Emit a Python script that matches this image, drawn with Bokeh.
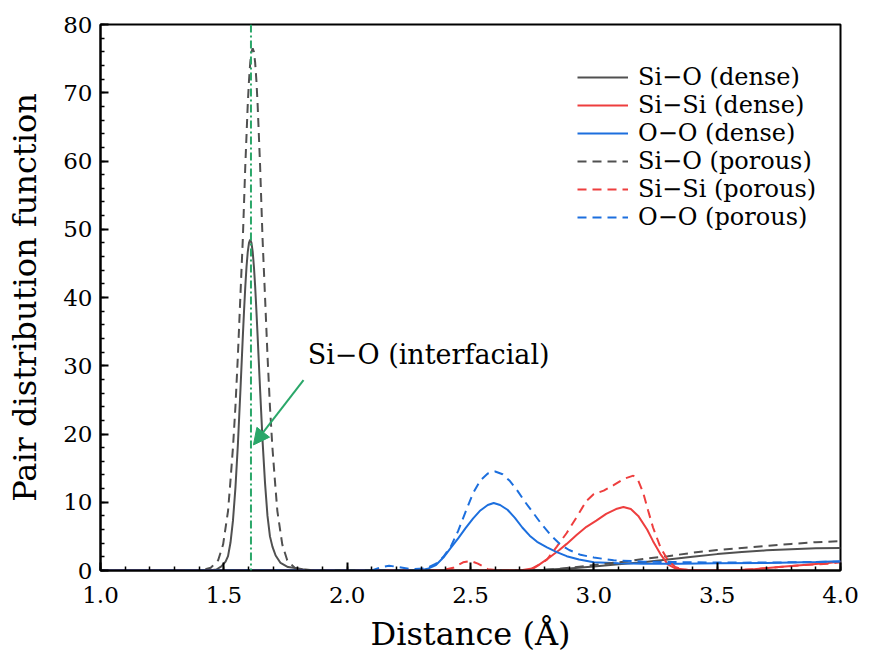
from bokeh.plotting import figure
from bokeh.models import (Range1d, FixedTicker, NumeralTickFormatter, Span, Arrow,
                          NormalHead, Label, Legend, LegendItem)
from bokeh.embed import file_html
from bokeh.resources import INLINE

# ---------------- data ----------------
sio_dense_x = [1.0, 1.44, 1.47, 1.49, 1.507, 1.517, 1.527, 1.537, 1.547, 1.557, 1.567, 1.577,
               1.582, 1.587, 1.592, 1.597, 1.602, 1.607, 1.612, 1.617, 1.622, 1.627, 1.632,
               1.637, 1.647, 1.657, 1.667, 1.677, 1.687, 1.697, 1.71, 1.73, 1.76, 1.79, 1.82,
               1.86, 1.90, 2.70, 2.80, 2.90, 3.0, 3.1, 3.2, 3.3, 3.4, 3.5, 3.6, 3.7, 3.8, 3.9, 4.0]
sio_dense_y = [0, 0, 0.15, 0.6, 1.3, 2.1, 4.1, 7.3, 12.1, 18.5, 26.2, 34.3,
               38.1, 41.6, 44.5, 46.7, 48.0, 48.5, 48.0, 46.7, 44.5, 41.6, 38.1,
               34.3, 26.5, 19.0, 12.8, 8.0, 5.0, 3.5, 2.2, 1.1, 0.5, 0.35, 0.2,
               0.05, 0, 0, 0.1, 0.3, 0.6, 0.9, 1.2, 1.6, 2.0, 2.4, 2.7, 2.95, 3.1, 3.25, 3.3]

sisi_dense_x = [1.0, 2.70, 2.75, 2.78, 2.82, 2.86, 2.89, 2.93, 2.97, 3.01, 3.05, 3.09, 3.12,
                3.15, 3.18, 3.216, 3.24, 3.27, 3.30, 3.33, 3.38, 3.45, 3.55, 3.65, 3.75,
                3.85, 3.95, 4.0]
sisi_dense_y = [0, 0, 0.3, 0.9, 1.9, 3.0, 3.9, 5.2, 6.4, 7.3, 8.3, 9.0, 9.3,
                9.0, 8.0, 6.0, 4.3, 2.4, 0.9, 0.3, 0.1, 0.0, 0.0, 0.2, 0.5,
                0.8, 1.1, 1.3]

oo_dense_x = [1.0, 2.30, 2.33, 2.36, 2.39, 2.42, 2.45, 2.48, 2.51, 2.54, 2.57, 2.594, 2.62,
              2.65, 2.68, 2.71, 2.74, 2.77, 2.81, 2.85, 2.89, 2.94, 3.0, 3.1, 3.2, 3.35,
              3.5, 3.7, 3.9, 4.0]
oo_dense_y = [0, 0.05, 0.3, 0.8, 1.9, 3.3, 4.7, 6.2, 7.6, 8.8, 9.6, 9.9, 9.6,
              8.9, 7.7, 6.3, 5.1, 4.2, 3.4, 2.7, 2.1, 1.6, 1.2, 1.05, 1.0, 1.0,
              1.05, 1.1, 1.25, 1.35]

sio_porous_x = [1.0, 1.39, 1.417, 1.447, 1.477, 1.497, 1.517, 1.527, 1.537, 1.547, 1.557, 1.567,
                1.577, 1.587, 1.597, 1.602, 1.607, 1.612, 1.617, 1.622, 1.627, 1.632, 1.637,
                1.647, 1.657, 1.667, 1.677, 1.687, 1.697, 1.707, 1.717, 1.737, 1.757, 1.787,
                1.817, 1.86, 2.75, 2.85, 2.95, 3.05, 3.15, 3.2, 3.3, 3.4, 3.5, 3.6, 3.7,
                3.8, 3.9, 4.0]
sio_porous_y = [0, 0, 0.1, 0.4, 1.5, 3.8, 8.7, 13.2, 18.0, 24.0, 31.5, 40.1,
                48.6, 59.3, 68.3, 71.8, 74.4, 76.0, 76.5, 76.0, 74.4, 71.8, 68.3,
                59.3, 48.6, 40.1, 31.5, 24.0, 18.0, 13.2, 8.7, 3.8, 1.5, 0.4,
                0.1, 0, 0, 0.2, 0.6, 1.0, 1.4, 1.7, 2.1, 2.6, 3.0, 3.3, 3.6,
                3.9, 4.15, 4.3]

sisi_porous_x = [1.0, 2.38, 2.43, 2.47, 2.50, 2.53, 2.57, 2.62, 2.72, 2.76, 2.81, 2.85, 2.89,
                 2.93, 2.97, 3.00, 3.04, 3.08, 3.12, 3.16, 3.18, 3.20, 3.22, 3.24, 3.27,
                 3.30, 3.33, 3.37, 3.45, 3.55, 3.65, 3.75, 3.85, 3.95, 4.0]
sisi_porous_y = [0, 0, 0.4, 1.2, 1.4, 1.0, 0.2, 0, 0, 0.4, 1.6, 3.5, 5.5,
                 7.8, 10.2, 11.2, 11.7, 12.5, 13.4, 13.9, 13.2, 11.4, 8.8, 6.3, 3.4,
                 1.5, 0.5, 0.1, 0, 0, 0.2, 0.5, 0.8, 1.0, 1.2]

oo_porous_x = [1.0, 2.10, 2.13, 2.17, 2.21, 2.26, 2.32, 2.36, 2.39, 2.42, 2.45, 2.48, 2.51,
               2.54, 2.57, 2.60, 2.63, 2.66, 2.69, 2.72, 2.755, 2.79, 2.83, 2.865, 2.90,
               2.946, 3.0, 3.08, 3.2, 3.4, 3.6, 3.8, 4.0]
oo_porous_y = [0, 0, 0.4, 0.7, 0.5, 0.2, 0.3, 1.0, 2.0, 3.5, 5.8, 8.6, 11.3,
               13.2, 14.2, 14.5, 14.1, 13.1, 11.7, 10.1, 8.4, 6.7, 5.0, 3.8, 3.0,
               2.3, 1.9, 1.5, 1.3, 1.2, 1.15, 1.2, 1.3]

series_labels = ["Si−O (dense)", "Si−Si (dense)", "O−O (dense)",
                 "Si−O (porous)", "Si−Si (porous)", "O−O (porous)"]

interfacial_x = 1.61
arrow_start = (1.823, 27.9)
arrow_end = (1.620, 18.4)
annot_pos = (1.84, 31.6)
annot_text = "Si−O (interfacial)"

x_ticks = [1.0, 1.5, 2.0, 2.5, 3.0, 3.5, 4.0]
y_ticks = [0, 10, 20, 30, 40, 50, 60, 70, 80]

# ---------------- style ----------------
FONT = "DejaVu Serif"
GRAY = "#505050"
RED = "#ee3e3e"
BLUE = "#1c6fde"
GREEN = "#2aa769"

p = figure(width=863, height=655, output_backend="svg", toolbar_location=None,
           x_range=Range1d(1.0, 4.0), y_range=Range1d(0, 80),
           min_border_left=100, min_border_right=23, min_border_top=24, min_border_bottom=84)
p.background_fill_color = "white"
p.border_fill_color = "white"
p.grid.visible = False
p.outline_line_color = "black"
p.outline_line_width = 2
p.outline_line_alpha = 1

x_minor = [round(1.0 + 0.1 * i, 2) for i in range(31)]
y_minor = list(range(0, 81, 2))
p.xaxis.ticker = FixedTicker(ticks=x_ticks, minor_ticks=x_minor)
p.yaxis.ticker = FixedTicker(ticks=y_ticks, minor_ticks=y_minor)
p.xaxis.formatter = NumeralTickFormatter(format="0.0")

for ax in (p.xaxis[0], p.yaxis[0]):
    ax.axis_line_width = 2
    ax.axis_line_color = "black"
    ax.major_tick_in = 8
    ax.major_tick_out = 0
    ax.minor_tick_in = 4
    ax.minor_tick_out = 0
    ax.major_tick_line_width = 2
    ax.minor_tick_line_width = 1.5
    ax.major_label_text_font = FONT
    ax.major_label_text_font_size = "23px"
    ax.major_label_text_color = "black"
    ax.axis_label_text_font = FONT
    ax.axis_label_text_font_size = "32px"
    ax.axis_label_text_font_style = "normal"
    ax.axis_label_text_color = "black"

p.xaxis.axis_label = "Distance (Å)"
p.yaxis.axis_label = "Pair distribution function"
p.xaxis.major_label_standoff = 16
p.xaxis.axis_label_standoff = 9
p.yaxis.major_label_standoff = 8
p.yaxis.axis_label_standoff = 16

# ---------------- curves ----------------
LW = 2
r1 = p.line(sio_dense_x, sio_dense_y, line_color=GRAY, line_width=LW)
r2 = p.line(sisi_dense_x, sisi_dense_y, line_color=RED, line_width=LW)
r3 = p.line(oo_dense_x, oo_dense_y, line_color=BLUE, line_width=LW)
r4 = p.line(sio_porous_x, sio_porous_y, line_color=GRAY, line_width=LW, line_dash="9 6")
r5 = p.line(sisi_porous_x, sisi_porous_y, line_color=RED, line_width=LW, line_dash="9 6")
r6 = p.line(oo_porous_x, oo_porous_y, line_color=BLUE, line_width=LW, line_dash="9 6")

p.add_layout(Span(location=interfacial_x, dimension="height", line_color=GREEN,
                  line_width=2, line_dash="8 3 2 3"))

p.add_layout(Arrow(end=NormalHead(size=16, fill_color=GREEN, line_color=GREEN, line_width=1),
                   x_start=arrow_start[0], y_start=arrow_start[1],
                   x_end=arrow_end[0], y_end=arrow_end[1],
                   line_color=GREEN, line_width=2))

p.add_layout(Label(x=annot_pos[0], y=annot_pos[1], text=annot_text, text_font=FONT,
                   text_font_size="27px", text_baseline="middle", text_color="black"))

legend = Legend(items=[LegendItem(label=lab, renderers=[r])
                       for lab, r in zip(series_labels, [r1, r2, r3, r4, r5, r6])],
                location=(477, 339), label_text_font=FONT, label_text_font_size="24px",
                label_text_color="black", glyph_width=51, glyph_height=24,
                label_height=24, label_standoff=10, spacing=0, padding=0, margin=0,
                border_line_color=None, background_fill_alpha=0)
p.add_layout(legend)

open("out.html", "w").write(file_html(p, INLINE))
